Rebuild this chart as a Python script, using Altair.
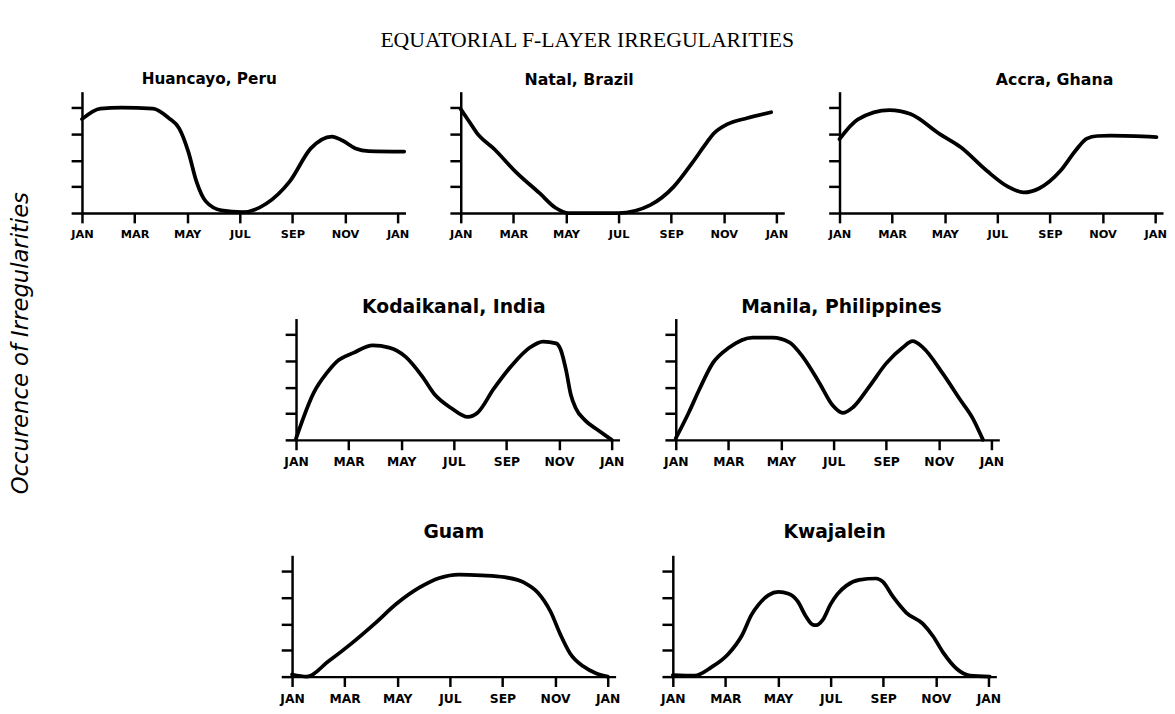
import altair as alt
import pandas as pd

TITLE = "EQUATORIAL F-LAYER IRREGULARITIES"
Y_LABEL = "Occurence of Irregularities"
MONTH_TICKS = [0, 2, 4, 6, 8, 10, 12]
MONTH_LABELS = ["JAN", "MAR", "MAY", "JUL", "SEP", "NOV", "JAN"]
LEVEL_TICKS = [0, 1, 2, 3, 4]

# month (0 = JAN ... 12 = next JAN) and relative occurrence level
huancayo_m = [0, 0.7, 1.5, 2.7, 3.3, 3.7, 4.05, 4.35, 4.7, 5.3, 6.1, 7.0, 7.9, 8.7, 9.5, 9.9, 10.4, 10.9, 12.25]
huancayo_v = [3.56, 3.96, 4.0, 3.96, 3.6, 3.2, 2.3, 1.2, 0.45, 0.1, 0.03, 0.35, 1.2, 2.45, 2.9, 2.75, 2.45, 2.35, 2.33]

natal_m = [0, 0.3, 0.6, 1.3, 2.1, 3.0, 3.6, 4.1, 6.0, 7.2, 8.1, 8.8, 9.3, 9.6, 10.1, 10.9, 11.8]
natal_v = [3.94, 3.5, 3.05, 2.4, 1.55, 0.75, 0.2, 0.0, 0.0, 0.3, 1.0, 1.9, 2.6, 3.0, 3.35, 3.6, 3.82]

accra_m = [0, 0.7, 1.9, 2.7, 3.8, 4.6, 5.6, 6.4, 7.0, 7.6, 8.4, 9.0, 9.4, 9.8, 10.3, 12.05]
accra_v = [2.8, 3.55, 3.9, 3.75, 3.0, 2.5, 1.6, 1.0, 0.78, 0.94, 1.6, 2.4, 2.82, 2.92, 2.93, 2.88]

kodaikanal_m = [0, 0.68, 1.18, 1.55, 2.18, 2.92, 3.54, 4.17, 4.79, 5.29, 5.91, 6.53, 6.9, 7.52, 8.27, 8.89,
                9.39, 9.89, 10.07, 10.26, 10.45, 10.63, 11.0, 11.5, 12.0]
kodaikanal_v = [0.05, 1.8, 2.55, 2.97, 3.3, 3.58, 3.5, 3.15, 2.42, 1.7, 1.2, 0.87, 1.03, 1.94, 2.9, 3.5,
                3.73, 3.66, 3.4, 2.67, 1.7, 1.21, 0.73, 0.36, 0.0]

manila_m = [0, 0.5, 0.89, 1.4, 2.03, 2.92, 3.68, 4.32, 4.83, 5.46, 5.97, 6.35, 6.73, 7.37, 8.0, 8.63, 9.0,
            9.4, 10.16, 10.8, 11.3, 11.68]
manila_v = [0.06, 1.05, 1.9, 2.9, 3.5, 3.88, 3.88, 3.7, 3.15, 2.16, 1.3, 1.02, 1.23, 2.04, 2.9, 3.5, 3.74,
            3.5, 2.5, 1.54, 0.8, 0.0]

guam_m = [0, 0.56, 1.37, 2.24, 3.11, 3.98, 4.85, 5.6, 6.34, 7.21, 8.08, 8.83, 9.33, 9.83, 10.2, 10.57,
          11.07, 11.57, 12.0]
guam_v = [0.08, 0.0, 0.57, 1.24, 1.98, 2.77, 3.38, 3.74, 3.87, 3.84, 3.77, 3.56, 3.2, 2.46, 1.6, 0.88,
          0.39, 0.12, 0.0]

kwajalein_m = [0, 0.83, 1.47, 2.1, 2.62, 3.0, 3.26, 3.64, 4.02, 4.4, 4.75, 5.05, 5.3, 5.45, 5.7, 6.0, 6.25,
               6.6, 7.09, 7.73, 7.98, 8.37, 8.88, 9.51, 9.9, 10.28, 10.79, 11.3, 12.05]
kwajalein_v = [0.06, 0.04, 0.36, 0.85, 1.55, 2.36, 2.73, 3.09, 3.21, 3.14, 2.85, 2.3, 1.98, 1.95, 2.15, 2.75, 3.12,
               3.45, 3.67, 3.72, 3.6, 3.03, 2.42, 2.0, 1.52, 0.91, 0.3, 0.04, 0.0]

W = 328
H = 123
label_expr = "[" + ",".join("'%s'" % s for s in MONTH_LABELS) + "][round(datum.value / 2)]"


def panel(name, months, values, title_size, label_size, title_dx=0, title_offset=6):
    df = pd.DataFrame({"month": months, "level": values})
    return alt.Chart(df).mark_line(
        interpolate="monotone", color="black", strokeWidth=3.8, strokeCap="round", strokeJoin="round"
    ).encode(
        x=alt.X("month:Q", scale=alt.Scale(domain=[0, 12.3], nice=False, zero=False),
                axis=alt.Axis(values=MONTH_TICKS, labelExpr=label_expr, title=None, grid=False,
                              labelFontSize=label_size, labelFont="DejaVu Sans", labelFontWeight="bold",
                              labelColor="black", labelOverlap=False, labelFlush=False,
                              domainColor="black", domainWidth=2.5, tickColor="black", tickWidth=2.5,
                              tickSize=10, labelPadding=6)),
        y=alt.Y("level:Q", scale=alt.Scale(domain=[0, 4.6], nice=False),
                axis=alt.Axis(values=LEVEL_TICKS, labels=False, title=None, grid=False,
                              domainColor="black", domainWidth=2.5, tickColor="black", tickWidth=2.5,
                              tickSize=11)),
    ).properties(
        width=W, height=H,
        title=alt.TitleParams(name, fontSize=title_size, font="DejaVu Sans", fontWeight="bold",
                              color="black", dx=title_dx, offset=title_offset, anchor="middle"),
    )


def spacer(w):
    return alt.Chart(pd.DataFrame({"s": [0]})).mark_point(opacity=0).properties(width=w, height=H)


row1 = alt.hconcat(
    panel("Huancayo, Peru", huancayo_m, huancayo_v, 15.5, 11.5, -35, 4),
    panel("Natal, Brazil", natal_m, natal_v, 16, 11.5, -44, 4),
    panel("Accra, Ghana", accra_m, accra_v, 16, 11.5, 54, 4),
    spacing=39,
)
row2 = alt.hconcat(
    spacer(165),
    panel("Kodaikanal,  India", kodaikanal_m, kodaikanal_v, 19, 12.5, -4, 2),
    panel("Manila, Philippines", manila_m, manila_v, 19, 12.5, 4, 2),
    spacing=39,
)
row3 = alt.hconcat(
    spacer(160),
    panel("Guam", guam_m, guam_v, 19, 12.5, 0, 14),
    panel("Kwajalein", kwajalein_m, kwajalein_v, 19, 12.5, 0, 14),
    spacing=40,
)

grid = alt.vconcat(alt.vconcat(row1, row2, spacing=58), row3, spacing=55)

ylab = alt.Chart(pd.DataFrame({"t": [Y_LABEL]})).mark_text(
    angle=270, font="DejaVu Sans", fontStyle="italic", fontSize=23, color="black"
).encode(text="t:N", x=alt.value(13), y=alt.value(255)).properties(width=26, height=560)

chart = alt.hconcat(ylab, grid, spacing=36).properties(
    title=alt.TitleParams(TITLE, font="Liberation Serif", fontSize=22, fontWeight="normal",
                          color="black", anchor="middle", offset=20),
    padding={"left": 0, "top": 17, "right": 0, "bottom": 0},
    background="white",
).configure_view(stroke=None)

chart.save("out.html", embed_options={"renderer": "svg", "actions": False})
